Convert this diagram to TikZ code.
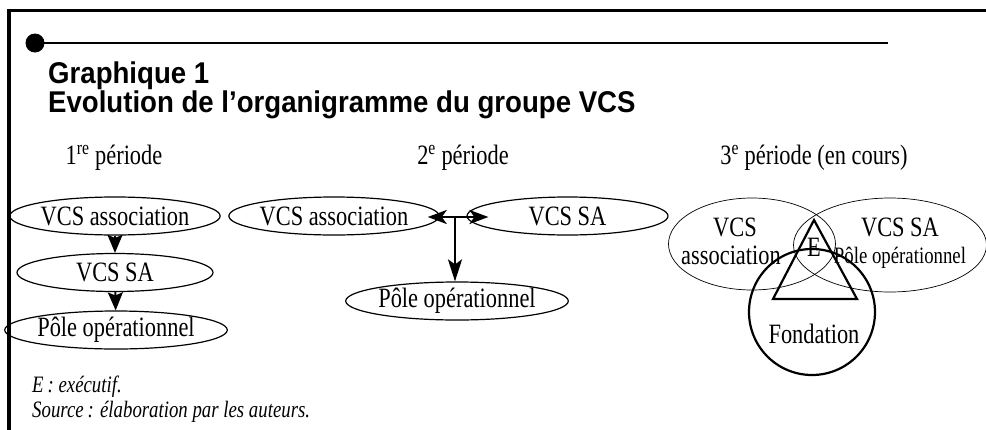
\documentclass[tikz,border=0pt]{standalone}
\usepackage{fontspec}
\setmainfont{Liberation Serif}[FakeStretch=0.8]
\newfontfamily\titlefont{Liberation Sans}[FakeStretch=0.92]
\usetikzlibrary{shapes.geometric,arrows.meta}
\begin{document}
\begin{tikzpicture}[x=1pt,y=-1pt,
  oval/.style={draw,ellipse,line width=1.2pt,inner sep=0pt,minimum width=196pt,minimum height=38pt,font=\fontsize{28}{30}\selectfont},
  thinoval/.style={draw,ellipse,line width=0.7pt,inner sep=0pt},
  lbl/.style={font=\fontsize{28}{30}\selectfont,inner sep=0pt},
  smalllbl/.style={font=\fontsize{23.5}{26}\selectfont,inner sep=0pt},
  note/.style={font=\fontsize{23.5}{26}\selectfont\itshape,inner sep=0pt,anchor=base west},
  ttl/.style={font=\fontsize{30}{27}\titlefont\bfseries,inner sep=0pt,align=left},
  arr/.style={-{Stealth[length=18pt,width=15pt,inset=3pt]},line width=1.8pt},
  conn/.style={line width=2.5pt},
  thick2/.style={line width=2.2pt},
]
\useasboundingbox (0,0) rectangle (986,429);
% frame
\draw[line width=3.5pt] (9,431) -- (9,10.5) -- (990,10.5);
% header rule
\fill (35,43) circle[radius=9.5pt];
\coordinate (rs) at (35,43);
\coordinate (re) at (888,43);
\draw[line width=1.2pt] (rs) -- (re);
% title (two lines, one node; base = last line)
\node[ttl,anchor=base west] (t1) at (48,112) {Graphique 1\\Evolution de l’organigramme du groupe VCS};
% period labels
\node[lbl,anchor=base] (p1) at (114,164) {1\textsuperscript{re} période};
\node[lbl,anchor=base] (p2) at (463,164) {2\textsuperscript{e} période};
\node[lbl,anchor=base] (p3) at (814,164) {3\textsuperscript{e} période (en cours)};
% period 1
\node[oval] (a1) at (115,216) {VCS association};
\node[oval] (b1) at (115,272.5) {VCS SA};
\node[oval] (c1) at (116,330) {Pôle opérationnel};
\draw[arr] (a1) -- (b1);
\draw[arr] (b1) -- (c1);
% period 2
\node[oval,minimum width=198pt] (a2) at (334,216) {VCS association};
\node[oval,minimum width=201pt] (b2) at (567.5,216) {VCS SA};
\node[oval,minimum width=194pt] (c2) at (457,301) {Pôle opérationnel};
\coordinate (j) at (455,217);
\draw[conn,-{Stealth[length=19pt,width=14pt,inset=5pt]}] (j) -- ([xshift=-12pt]a2.east |- j);
\draw[conn,-{Stealth[length=19pt,width=14pt,inset=5pt]}] (j) -- ([xshift=22pt]b2.west |- j);
\draw[conn,-{Stealth[length=22pt,width=14pt,inset=5pt]}] (j) -- (j |- c2.north);
% period 3
\node[thinoval,minimum width=167pt,minimum height=92pt] (a3) at (752,244) {};
\node[thinoval,minimum width=193pt,minimum height=94pt] (b3) at (890,245) {};
\node[circle,draw,thick2,minimum size=126pt,inner sep=0pt] (f3) at (812,312) {};
\coordinate (ta) at (814,220);
\coordinate (tl) at (773,299);
\coordinate (tr) at (857,299);
\draw[thick2,line join=miter] (ta) -- (tl) -- (tr) -- cycle;
\node[lbl] (e3) at (814,247) {E};
\node[lbl] (v3) at (735,227) {VCS};
\node[lbl] (as3) at (731,255) {association};
\node[lbl] (s3) at (900,227) {VCS SA};
\node[smalllbl] (po3) at (900,258) {Pôle opérationnel};
\node[lbl] (fo3) at (814,334) {Fondation};
% notes
\node[note] (n1) at (32,392) {E\,: exécutif.};
\node[note] (n2) at (32,417) {Source\,: élaboration par les auteurs.};
\end{tikzpicture}
\end{document}
